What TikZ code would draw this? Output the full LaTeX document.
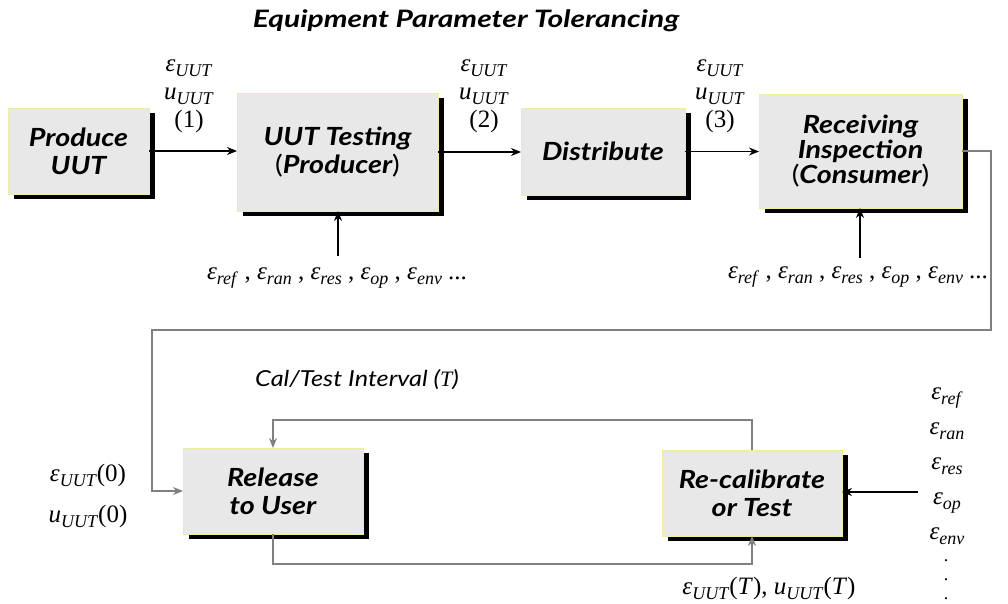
\documentclass[tikz,border=0pt]{standalone}
\usepackage{fontspec}
\setmainfont{Liberation Serif}
\newfontfamily\bxfont{Lato}[FakeStretch=1.15]
\newfontfamily\ttlfont{Lato}[FakeStretch=1.25]
\usetikzlibrary{arrows.meta,shadows}
\definecolor{boxfill}{RGB}{232,232,232}
\definecolor{boxedge}{RGB}{238,238,150}
\definecolor{linegray}{RGB}{128,128,128}
\newcommand\subsz{\fontsize{18}{18}\selectfont}
\newcommand\epsl[1]{\textit{ε}\raisebox{-0.45ex}{\subsz\textit{#1}}}
\newcommand\ul[1]{\textit{u}\raisebox{-0.45ex}{\subsz\textit{#1}}}
\newcommand\up[1]{{\upshape\mdseries #1}}
\begin{document}
\begin{tikzpicture}[x=1pt,y=-1pt,
  box/.style={draw=boxedge, fill=boxfill, line width=0.8pt, inner sep=0pt, outer sep=0pt,
    align=center, anchor=north west,
    font=\bxfont\bfseries\itshape\fontsize{25}{28}\selectfont,
    drop shadow={shadow xshift=6pt, shadow yshift=-5pt, fill=black, opacity=1, draw=none}},
  lab/.style={align=center, inner sep=1pt, font=\fontsize{25}{28}\selectfont},
  arr/.style={-{Stealth[length=10pt,width=8pt]}, line width=1.3pt, black},
  garr/.style={-{Stealth[length=10pt,width=8pt]}, line width=1.4pt, linegray}]
\useasboundingbox (0,0) rectangle (1008,604);

\node[font=\ttlfont\bfseries\itshape\fontsize{24}{24}\selectfont] (title) at (466,21) {Equipment Parameter Tolerancing};

\node[box, minimum width=141pt, minimum height=86pt] (produce) at (8,108) {Produce\\UUT};
\node[box, minimum width=201pt, minimum height=118pt] (testing) at (237,93) {UUT Testing\\\up{(}Producer\up{)}};
\node[box, minimum width=164pt, minimum height=87pt] (dist) at (521,108) {Distribute};
\node[box, minimum width=203pt, minimum height=114pt, font=\bxfont\bfseries\itshape\fontsize{25}{25}\selectfont] (recv) at (759,94) {Receiving\\Inspection\\\up{(}Consumer\up{)}};
\node[box, minimum width=180pt, minimum height=86pt] (release) at (183,448) {Release\\to User};
\node[box, minimum width=180pt, minimum height=86pt] (recal) at (662,450) {Re-calibrate\\or Test};

\draw[arr] (produce.east) -- (testing.west |- produce.east);
\draw[arr] (testing.east) -- (dist.west |- testing.east);
\draw[arr] (dist.east) -- (recv.west |- dist.east);

\node[lab] (l1) at (189,96) {\epsl{UUT}\\\ul{UUT}\\(1)};
\node[lab] (l2) at (484,96) {\epsl{UUT}\\\ul{UUT}\\(2)};
\node[lab] (l3) at (720,96) {\epsl{UUT}\\\ul{UUT}\\(3)};

% gray route from receiving inspection to release
\coordinate (g1) at (991,151);
\coordinate (g2) at (152,330);
\draw[garr] (recv.east) -- (recv.east -| g1) -- (g1 |- g2) -- (g2) -- (g2 |- release.west) -- (release.west);

\node[lab] (in1) at (337,278) {\epsl{ref} , \epsl{ran} , \epsl{res} , \epsl{op} , \epsl{env} ...};
\coordinate (s1) at (338,256);
\draw[arr] (s1) -- (testing.south -| s1);

\node[lab, fill=white] (in2) at (858,277) {\epsl{ref} , \epsl{ran} , \epsl{res} , \epsl{op} , \epsl{env} ...};
\coordinate (s2) at (860,258);
\draw[arr] (s2) -- (recv.south -| s2);

% loop
\coordinate (top) at (0,420);
\coordinate (bot) at (0,564);
\draw[garr] (recal.north) -- (recal.north |- top) -- (release.north |- top) -- (release.north);
\draw[garr] (release.south) -- (release.south |- bot) -- (recal.south |- bot) -- (recal.south);

\node[font=\bxfont\itshape\fontsize{22}{22}\selectfont] (cal) at (357,380) {Cal/Test Interval (\textrm{\textit{T}})};

\node[lab, font=\fontsize{25}{41}\selectfont] (init) at (88,496) {\epsl{UUT}(0)\\\ul{UUT}(0)};

\node[lab, inner sep=0pt, font=\fontsize{25}{35}\selectfont] (errs) at (947,466) {\epsl{ref}\\\epsl{ran}\\\epsl{res}\\\epsl{op}\\\epsl{env}};
\node[lab, inner sep=0pt, font=\fontsize{18}{19}\selectfont] (dots) at (946,580) {.\\.\\.};
\coordinate (s3) at (918,492);
\draw[arr] (s3) -- (recal.east |- s3);

\node[lab] (tlab) at (769,588) {\epsl{UUT}(\textit{T}), \ul{UUT}(\textit{T})};
\end{tikzpicture}
\end{document}
